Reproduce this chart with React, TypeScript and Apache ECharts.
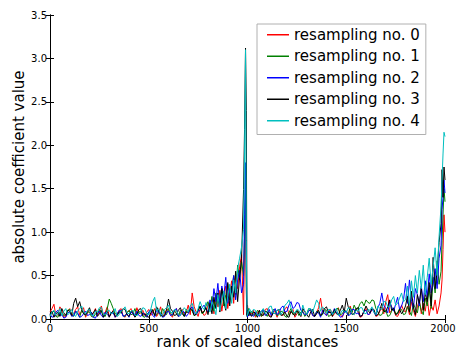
import React, { useEffect, useRef } from "react";
import * as echarts from "echarts";

const ranks = [
  0, 10, 20, 30, 40, 50, 60, 70, 80, 90, 100, 110, 120, 130, 140, 150, 160, 170, 180, 190,
  200, 210, 220, 230, 240, 250, 260, 270, 280, 290, 300, 310, 320, 330, 340, 350, 360, 370, 380, 390,
  400, 410, 420, 430, 440, 450, 460, 470, 480, 490, 500, 510, 520, 530, 540, 550, 560, 570, 580, 590,
  600, 610, 620, 630, 640, 650, 660, 670, 680, 690, 700, 710, 720, 730, 740, 750, 760, 770, 780, 790,
  800,
  810, 820, 830, 840, 850, 860, 870, 880, 890, 900, 910, 920, 930, 940, 950, 960, 970, 980,
  985, 990, 994, 997, 1000, 1005, 1010,
  1020, 1030, 1040, 1050, 1060, 1070, 1080, 1090, 1100, 1110, 1120, 1130, 1140, 1150, 1160, 1170,
  1180, 1190, 1200, 1210, 1220, 1230, 1240, 1250, 1260, 1270, 1280, 1290, 1300, 1310, 1320, 1330,
  1340, 1350, 1360, 1370, 1380, 1390, 1400, 1410, 1420, 1430, 1440, 1450, 1460, 1470, 1480, 1490,
  1500, 1510, 1520, 1530, 1540, 1550, 1560, 1570, 1580, 1590, 1600, 1610, 1620, 1630, 1640, 1650,
  1660, 1670, 1680, 1690, 1700, 1710, 1720, 1730, 1740, 1750, 1760, 1770, 1780, 1790,
  1800, 1810, 1820, 1830, 1840, 1850, 1860, 1870, 1880, 1890, 1900, 1910, 1920, 1930, 1940, 1950,
  1960, 1970, 1980,
  1985, 1990, 1995, 2000,
];

const resampling0 = [
  0.08, 0.12, 0.17, 0.03, 0.05, 0.14, 0.10, 0.02, 0.03, 0.09,
  0.12, 0.04, 0.06, 0.11, 0.14, 0.05, 0.09, 0.13, 0.02, 0.07,
  0.11, 0.03, 0.07, 0.12, 0.04, 0.09, 0.15, 0.05, 0.08, 0.14,
  0.03, 0.06, 0.10, 0.02, 0.06, 0.10, 0.12, 0.04, 0.02, 0.08,
  0.09, 0.12, 0.05, 0.03, 0.13, 0.06, 0.07, 0.10, 0.04, 0.08,
  0.11, 0.04, 0.08, 0.12, 0.03, 0.07, 0.14, 0.03, 0.06, 0.11,
  0.10, 0.05, 0.02, 0.09, 0.12, 0.03, 0.07, 0.11, 0.05, 0.08,
  0.16, 0.05, 0.30, 0.14, 0.08, 0.03, 0.12, 0.09, 0.04, 0.06,
  0.18,
  0.10, 0.22, 0.06, 0.28, 0.14, 0.33, 0.09, 0.25, 0.38, 0.12, 0.30, 0.44, 0.18, 0.52, 0.35, 0.60, 0.74, 0.05,
  0.90, 1.40, 0.30, 0.05, 0.16, 0.04, 0.09,
  0.06, 0.10, 0.02, 0.07, 0.10, 0.03, 0.05, 0.11, 0.12, 0.04,
  0.03, 0.09, 0.08, 0.02, 0.11, 0.06, 0.04, 0.12, 0.14, 0.05,
  0.07, 0.11, 0.02, 0.06, 0.09, 0.03, 0.12, 0.08, 0.05, 0.10,
  0.10, 0.04, 0.03, 0.07, 0.13, 0.24, 0.08, 0.12, 0.04, 0.09,
  0.11, 0.03, 0.06, 0.10, 0.13, 0.05, 0.02, 0.08, 0.09, 0.04,
  0.15, 0.07, 0.05, 0.11, 0.08, 0.02, 0.03, 0.10, 0.12, 0.05,
  0.06, 0.11, 0.10, 0.03, 0.04, 0.09, 0.14, 0.06, 0.20, 0.28,
  0.07, 0.10, 0.12, 0.04, 0.03, 0.08, 0.16, 0.10,
  0.08, 0.15, 0.05, 0.20, 0.10, 0.03, 0.14, 0.22, 0.06, 0.18, 0.09, 0.25, 0.04, 0.16, 0.10, 0.22,
  0.06, 0.15, 0.30,
  0.45, 0.80, 1.20, 1.00,
];

const resampling1 = [
  0.04, 0.07, 0.09, 0.03, 0.02, 0.08, 0.07, 0.04, 0.05, 0.10,
  0.11, 0.05, 0.03, 0.09, 0.06, 0.02, 0.10, 0.07, 0.04, 0.08,
  0.08, 0.03, 0.02, 0.06, 0.06, 0.11, 0.09, 0.04, 0.03, 0.12,
  0.23, 0.18, 0.12, 0.06, 0.05, 0.09, 0.08, 0.04, 0.03, 0.07,
  0.10, 0.05, 0.06, 0.12, 0.04, 0.08, 0.09, 0.03, 0.02, 0.06,
  0.07, 0.10, 0.11, 0.04, 0.05, 0.09, 0.03, 0.12, 0.08, 0.05,
  0.12, 0.07, 0.04, 0.10, 0.06, 0.03, 0.10, 0.08, 0.03, 0.11,
  0.07, 0.12, 0.09, 0.04, 0.05, 0.10, 0.14, 0.06, 0.08, 0.15,
  0.20,
  0.12, 0.26, 0.09, 0.30, 0.18, 0.24, 0.35, 0.15, 0.28, 0.40, 0.22, 0.33, 0.50, 0.28, 0.62, 0.45, 0.66, 0.50,
  0.95, 1.60, 0.40, 0.03, 0.08, 0.12, 0.05,
  0.09, 0.05, 0.04, 0.10, 0.07, 0.03, 0.11, 0.06, 0.03, 0.08,
  0.06, 0.11, 0.10, 0.04, 0.05, 0.09, 0.08, 0.03, 0.02, 0.07,
  0.12, 0.05, 0.07, 0.10, 0.04, 0.08, 0.09, 0.03, 0.06, 0.12,
  0.11, 0.05, 0.03, 0.09, 0.08, 0.04, 0.05, 0.11, 0.10, 0.03,
  0.04, 0.08, 0.07, 0.12, 0.12, 0.05, 0.06, 0.10, 0.09, 0.04,
  0.13, 0.08, 0.16, 0.11, 0.12, 0.18, 0.20, 0.15, 0.22, 0.19,
  0.18, 0.22, 0.21, 0.12, 0.08, 0.04, 0.05, 0.10, 0.10, 0.03,
  0.04, 0.09, 0.13, 0.06, 0.07, 0.12, 0.11, 0.05,
  0.06, 0.14, 0.09, 0.04, 0.18, 0.12, 0.07, 0.20, 0.10, 0.05, 0.24, 0.15, 0.36, 0.12, 0.48, 0.30,
  0.67, 0.40, 0.55,
  0.90, 1.20, 1.50, 1.35,
];

const resampling2 = [
  0.06, 0.02, 0.03, 0.08, 0.10, 0.04, 0.05, 0.01, 0.02, 0.07,
  0.08, 0.03, 0.04, 0.09, 0.07, 0.02, 0.03, 0.06, 0.09, 0.04,
  0.05, 0.08, 0.02, 0.01, 0.06, 0.09, 0.04, 0.02, 0.08, 0.05,
  0.03, 0.07, 0.07, 0.02, 0.05, 0.10, 0.10, 0.03, 0.04, 0.06,
  0.02, 0.08, 0.06, 0.03, 0.09, 0.04, 0.03, 0.07, 0.05, 0.02,
  0.08, 0.11, 0.04, 0.02, 0.11, 0.07, 0.06, 0.02, 0.03, 0.08,
  0.09, 0.04, 0.05, 0.10, 0.12, 0.03, 0.04, 0.09, 0.08, 0.03,
  0.06, 0.12, 0.14, 0.07, 0.05, 0.09, 0.10, 0.13, 0.16, 0.11,
  0.08,
  0.22, 0.12, 0.35, 0.20, 0.41, 0.15, 0.38, 0.26, 0.48, 0.18, 0.36, 0.30, 0.50, 0.22, 0.45, 0.56, 0.30, 0.40,
  1.20, 1.80, 0.60, 0.06, 0.02, 0.09, 0.04,
  0.05, 0.03, 0.08, 0.06, 0.03, 0.09, 0.10, 0.04, 0.06, 0.11,
  0.04, 0.08, 0.12, 0.05, 0.07, 0.13, 0.15, 0.08, 0.09, 0.16,
  0.20, 0.12, 0.14, 0.19, 0.18, 0.10, 0.08, 0.05, 0.05, 0.09,
  0.11, 0.04, 0.03, 0.08, 0.07, 0.02, 0.10, 0.06, 0.04, 0.09,
  0.08, 0.05, 0.12, 0.07, 0.06, 0.02, 0.03, 0.08, 0.09, 0.04,
  0.05, 0.11, 0.11, 0.06, 0.07, 0.03, 0.04, 0.09, 0.10, 0.05,
  0.06, 0.12, 0.08, 0.04, 0.13, 0.18, 0.30, 0.16, 0.12, 0.07,
  0.20, 0.14, 0.09, 0.17, 0.25, 0.11, 0.15, 0.22,
  0.41, 0.18, 0.45, 0.22, 0.12, 0.35, 0.28, 0.15, 0.38, 0.20, 0.44, 0.25, 0.52, 0.30, 0.40, 0.58,
  0.35, 0.70, 0.85,
  1.26, 1.40, 1.60, 1.45,
];

const resampling3 = [
  0.05, 0.09, 0.02, 0.06, 0.08, 0.03, 0.12, 0.07, 0.04, 0.10,
  0.09, 0.04, 0.18, 0.24, 0.14, 0.20, 0.11, 0.06, 0.05, 0.09,
  0.13, 0.05, 0.07, 0.11, 0.03, 0.06, 0.10, 0.02, 0.06, 0.09,
  0.02, 0.07, 0.09, 0.03, 0.04, 0.08, 0.07, 0.12, 0.11, 0.05,
  0.03, 0.09, 0.08, 0.02, 0.05, 0.11, 0.12, 0.04, 0.06, 0.03,
  0.02, 0.07, 0.10, 0.04, 0.14, 0.09, 0.07, 0.03, 0.04, 0.10,
  0.23, 0.12, 0.09, 0.04, 0.05, 0.10, 0.13, 0.06, 0.03, 0.08,
  0.08, 0.12, 0.11, 0.04, 0.06, 0.10, 0.15, 0.07, 0.09, 0.13,
  0.05,
  0.18, 0.06, 0.25, 0.12, 0.30, 0.08, 0.35, 0.20, 0.10, 0.42, 0.15, 0.38, 0.25, 0.55, 0.20, 0.48, 0.70, 1.49,
  2.18, 3.12, 2.40, 0.05, 0.10, 0.04, 0.08,
  0.03, 0.08, 0.07, 0.02, 0.10, 0.05, 0.04, 0.09, 0.08, 0.03,
  0.02, 0.07, 0.06, 0.10, 0.11, 0.04, 0.05, 0.08, 0.03, 0.02,
  0.09, 0.06, 0.04, 0.10, 0.07, 0.03, 0.12, 0.09, 0.05, 0.02,
  0.08, 0.11, 0.03, 0.06, 0.10, 0.04, 0.06, 0.12, 0.14, 0.07,
  0.08, 0.03, 0.11, 0.06, 0.05, 0.10, 0.16, 0.08, 0.24, 0.14,
  0.10, 0.05, 0.06, 0.12, 0.13, 0.03, 0.04, 0.09, 0.15, 0.10,
  0.07, 0.12, 0.11, 0.04, 0.05, 0.10, 0.18, 0.09, 0.08, 0.14,
  0.22, 0.10, 0.12, 0.05, 0.06, 0.11, 0.06, 0.09,
  0.15, 0.26, 0.08, 0.32, 0.14, 0.05, 0.28, 0.18, 0.36, 0.10, 0.30, 0.20, 0.42, 0.15, 0.71, 0.35,
  0.55, 0.88, 1.10,
  1.72, 1.40, 1.75, 1.60,
];

const resampling4 = [
  0.03, 0.08, 0.10, 0.04, 0.06, 0.12, 0.04, 0.09, 0.12, 0.05,
  0.07, 0.11, 0.05, 0.03, 0.09, 0.12, 0.15, 0.08, 0.06, 0.10,
  0.11, 0.04, 0.04, 0.09, 0.08, 0.13, 0.13, 0.05, 0.05, 0.09,
  0.10, 0.06, 0.07, 0.12, 0.03, 0.05, 0.09, 0.11, 0.14, 0.07,
  0.06, 0.09, 0.10, 0.04, 0.04, 0.07, 0.08, 0.13, 0.12, 0.06,
  0.05, 0.11, 0.20, 0.25, 0.09, 0.12, 0.06, 0.04, 0.11, 0.13,
  0.16, 0.08, 0.07, 0.11, 0.10, 0.05, 0.04, 0.09, 0.13, 0.10,
  0.08, 0.15, 0.18, 0.09, 0.06, 0.12, 0.20, 0.14, 0.11, 0.19,
  0.15,
  0.08, 0.20, 0.14, 0.05, 0.28, 0.10, 0.22, 0.32, 0.12, 0.26, 0.40, 0.18, 0.45, 0.30, 0.58, 0.70, 0.83, 1.03,
  1.90, 3.10, 0.90, 0.10, 0.04, 0.08, 0.12,
  0.07, 0.11, 0.10, 0.04, 0.05, 0.09, 0.12, 0.06, 0.08, 0.14,
  0.15, 0.07, 0.06, 0.10, 0.11, 0.05, 0.09, 0.16, 0.18, 0.22,
  0.13, 0.08, 0.07, 0.11, 0.10, 0.04, 0.16, 0.09, 0.05, 0.12,
  0.12, 0.08, 0.15, 0.22, 0.18, 0.09, 0.14, 0.10, 0.06, 0.11,
  0.11, 0.05, 0.08, 0.12, 0.04, 0.06, 0.10, 0.09, 0.07, 0.13,
  0.12, 0.06, 0.05, 0.10, 0.09, 0.13, 0.13, 0.07, 0.06, 0.11,
  0.10, 0.14, 0.08, 0.05, 0.15, 0.12, 0.11, 0.20, 0.20, 0.14,
  0.14, 0.22, 0.26, 0.16, 0.18, 0.24, 0.30, 0.20,
  0.22, 0.38, 0.16, 0.44, 0.25, 0.50, 0.30, 0.56, 0.35, 0.62, 0.28, 0.48, 0.70, 0.40, 0.60, 0.82,
  0.50, 0.95, 1.30,
  1.60, 1.90, 2.15, 2.10,
];

const seriesNames = [
  "resampling no. 0",
  "resampling no. 1",
  "resampling no. 2",
  "resampling no. 3",
  "resampling no. 4",
];
const seriesValues = [resampling0, resampling1, resampling2, resampling3, resampling4];
const seriesColors = ["#ff0000", "#008000", "#0000ff", "#000000", "#00bfbf"];

const xTicks = { min: 0, max: 2000, interval: 500 };
const yTicks = { min: 0, max: 3.5, interval: 0.5 };

const FONT = "DejaVu Sans";

export default function App() {
  const ref = useRef<HTMLDivElement>(null);

  useEffect(() => {
    if (!ref.current) return;
    const chart = echarts.init(ref.current, undefined, { renderer: "svg" });

    const axisCommon = {
      axisLine: { show: true, lineStyle: { color: "#000", width: 1 } },
      axisTick: { show: true, inside: true, length: 4, lineStyle: { color: "#000" } },
      splitLine: { show: false },
    };

    const series = seriesNames.map((name, k) => {
      const vals = seriesValues[k];
      const n = Math.min(vals.length, ranks.length);
      const data: number[][] = [];
      for (let i = 0; i < n; i++) data.push([ranks[i], vals[i]]);
      return {
        name,
        type: "line",
        data,
        showSymbol: false,
        symbol: "none",
        clip: true,
        lineStyle: { width: 1, color: seriesColors[k] },
        itemStyle: { color: seriesColors[k] },
        emphasis: { disabled: true },
        z: 2 + k,
      };
    });

    chart.setOption({
      animation: false,
      grid: {
        left: 50,
        right: 11,
        top: 15,
        bottom: 32,
        containLabel: false,
        outerBoundsMode: "none",
      },
      xAxis: [
        {
          type: "value",
          ...xTicks,
          position: "bottom",
          ...axisCommon,
          name: "rank of scaled distances",
          nameLocation: "middle",
          nameGap: 15,
          nameMoveOverlap: false,
          nameTextStyle: { fontFamily: FONT, fontSize: 15, color: "#000", lineHeight: 15 },
          axisLabel: {
            show: true,
            fontFamily: FONT,
            fontSize: 10,
            color: "#000",
            margin: 4,
            formatter: (v: number) =>
              v >= xTicks.max ? "{e|" + Math.round(v) + "}" : String(Math.round(v)),
            rich: {
              e: { fontFamily: FONT, fontSize: 10, color: "#000", padding: [0, 4, 0, 0] },
            },
          },
        },
        {
          type: "value",
          ...xTicks,
          position: "top",
          ...axisCommon,
          axisLabel: { show: false },
        },
      ],
      yAxis: [
        {
          type: "value",
          ...yTicks,
          position: "left",
          ...axisCommon,
          name: "absolute coefficient value",
          nameLocation: "middle",
          nameGap: 24,
          nameMoveOverlap: false,
          nameTextStyle: { fontFamily: FONT, fontSize: 15, color: "#000", lineHeight: 15 },
          axisLabel: {
            show: true,
            fontFamily: FONT,
            fontSize: 10,
            color: "#000",
            margin: 3,
            formatter: (v: number) => v.toFixed(1),
          },
        },
        {
          type: "value",
          ...yTicks,
          position: "right",
          ...axisCommon,
          axisLabel: { show: false },
        },
      ],
      legend: {
        show: true,
        orient: "vertical",
        left: 257,
        top: 24,
        padding: [0, 6, 3, 10],
        itemGap: 0,
        itemWidth: 22,
        itemHeight: 1.5,
        itemTextGap: 16,
        icon: "rect",
        borderColor: "#b0b0b0",
        borderWidth: 1,
        borderRadius: 0,
        backgroundColor: "#ffffff",
        selectedMode: false,
        textStyle: { fontFamily: FONT, fontSize: 15, color: "#000", lineHeight: 21.5 },
        data: seriesNames.map((name, k) => ({ name, itemStyle: { color: seriesColors[k] } })),
      },
      series,
    });

    return () => chart.dispose();
  }, []);

  return (
    <div
      ref={ref}
      style={{ position: "absolute", left: 0, top: 0, width: 456, height: 351 }}
    />
  );
}
